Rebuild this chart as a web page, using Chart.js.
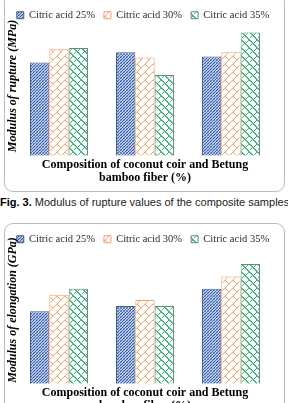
<!DOCTYPE html>
<html>
<head>
<meta charset="utf-8">
<script src="https://cdn.jsdelivr.net/npm/chart.js@4.4.1/dist/chart.umd.min.js"></script>
<style>
  body { margin: 0; width: 288px; height: 403px; overflow: hidden; position: relative; background: #fff; }
  .box { position: absolute; left: 4px; width: 279px; border: 1px solid #bdbdbd; border-radius: 9px; }
  #box1 { top: -8px; height: 198px; }
  #box2 { top: 223px; height: 200px; }
  .wrap { position: absolute; left: 1px; width: 284px; }
  #w1 { top: 0; height: 184px; }
  #w2 { top: 224px; height: 188px; }
  #cap { position: absolute; left: 0; top: 196px; font: 11px "Liberation Sans", Arial, sans-serif; white-space: nowrap; color: #222; }
  #cap b { color: #000; }
</style>
</head>
<body>
<div class="box" id="box1"></div>
<div class="wrap" id="w1"><canvas id="chart-rupture"></canvas></div>
<div id="cap"><b>Fig. 3.</b> Modulus of rupture values of the composite samples</div>
<div class="box" id="box2"></div>
<div class="wrap" id="w2"><canvas id="chart-elongation"></canvas></div>

<script>
/* -------- Daten -------- */
const categories = ["A", "B", "C"];   // Kategorien (im Bild ohne Beschriftung)
const seriesLabels = ["Citric acid 25%", "Citric acid 30%", "Citric acid 35%"];

// Modulus of rupture (relative Höhen, keine Achsenwerte im Bild)
const rupture25 = [9.0, 10.0, 9.6];
const rupture30 = [10.3, 9.5, 10.0];
const rupture35 = [10.4, 7.8, 11.9];

// Modulus of elongation
const elong25 = [7.1, 7.6, 9.3];
const elong30 = [8.7, 8.2, 10.5];
const elong35 = [9.3, 7.6, 11.7];

const xTitle = ["Composition of coconut coir and Betung", "bamboo fiber (%)"];
const SERIF = '"Liberation Serif", "Times New Roman", serif';

/* -------- Muster (Schraffuren) -------- */
function makePattern(kind) {
  const c = document.createElement("canvas");
  const ctx = c.getContext("2d");
  const px = (x, y, col) => { ctx.fillStyle = col; ctx.fillRect(x, y, 1, 1); };

  if (kind === "blue") {
    c.width = 3; c.height = 3;
    ctx.fillStyle = "#bfcdea"; ctx.fillRect(0, 0, 3, 3);
    for (let i = 0; i < 3; i++) px(i, 2 - i, "#4066ad");
    px(0, 0, "#87a0d3"); px(2, 2, "#87a0d3");
  } else if (kind === "orange") {
    c.width = 8; c.height = 8;
    ctx.fillStyle = "#ffffff"; ctx.fillRect(0, 0, 8, 8);
    for (let i = 0; i < 8; i++) px(i, 7 - i, "#f3a56a");
    for (let i = 0; i < 4; i++) px(i, i, "#f3a56a");
  } else {
    c.width = 8; c.height = 8;
    ctx.fillStyle = "#ffffff"; ctx.fillRect(0, 0, 8, 8);
    for (let i = 0; i < 8; i++) { px(i, i, "#45b883"); px((i + 1) % 8, i, "#45b883"); }
    for (let i = 0; i < 3; i++) px(5 + i, 2 - i, "#45b883");
    px(1, 5, "#45b883"); px(2, 4, "#45b883");
  }
  return c.getContext("2d").createPattern(c, "repeat");
}

const fills = [makePattern("blue"), makePattern("orange"), makePattern("green")];
const borders = ["#4b5d7e", "#eda16c", "#6b8a7c"];

/* -------- Y-Titel (gedreht, frei positioniert) -------- */
const yTitlePlugin = {
  id: "yTitle",
  afterDraw(chart, args, opts) {
    const ctx = chart.ctx;
    ctx.save();
    ctx.translate(opts.x, opts.y);
    ctx.rotate(-Math.PI / 2);
    ctx.font = "italic bold 12px " + SERIF;
    ctx.fillStyle = "#000";
    ctx.textAlign = "center";
    ctx.textBaseline = "middle";
    ctx.fillText(opts.text, 0, 0);
    ctx.restore();
  }
};

// leere Achse, nur als Platzhalter für den Rand
const spacer = (pos, w) => ({
  position: pos,
  display: true,
  grid: { display: false, drawTicks: false },
  border: { display: false },
  ticks: { display: false },
  afterFit: s => { s.width = w; }
});

/* -------- Chart -------- */
function makeChart(id, yTitle, series, yMax) {
  const ctx = document.getElementById(id).getContext("2d");
  return new Chart(ctx, {
    type: "bar",
    data: {
      labels: categories,
      datasets: series.map((data, i) => ({
        label: seriesLabels[i],
        data,
        yAxisID: "y",
        backgroundColor: fills[i],
        borderColor: borders[i],
        borderWidth: 1,
        categoryPercentage: 0.674,
        barPercentage: 1.0
      }))
    },
    options: {
      responsive: true,
      maintainAspectRatio: false,
      animation: false,
      layout: { padding: { left: 0, right: 0, top: 1, bottom: 0 } },
      plugins: {
        legend: {
          position: "top",
          labels: {
            boxWidth: 7, boxHeight: 7, padding: 9, color: "#2b2b2b",
            font: { family: SERIF, size: 10.5 }
          }
        },
        tooltip: { enabled: false },
        yTitle: { text: yTitle, x: 12, y: 86 }
      },
      scales: {
        x: {
          grid: { display: false, drawTicks: false },
          border: { display: false },
          ticks: { display: false },
          title: {
            display: true, text: xTitle, color: "#000",
            font: { family: SERIF, size: 12, weight: "bold", lineHeight: 1.05 },
            padding: { top: 3, bottom: 0 }
          }
        },
        y: { ...spacer("left", 15), min: 0, max: yMax },
        yRight: spacer("right", 11)
      }
    },
    plugins: [yTitlePlugin]
  });
}

makeChart("chart-rupture", "Modulus of rupture (MPa)", [rupture25, rupture30, rupture35], 12.1);
makeChart("chart-elongation", "Modulus of elongation (GPa)", [elong25, elong30, elong35], 12.64);
</script>
</body>
</html>
